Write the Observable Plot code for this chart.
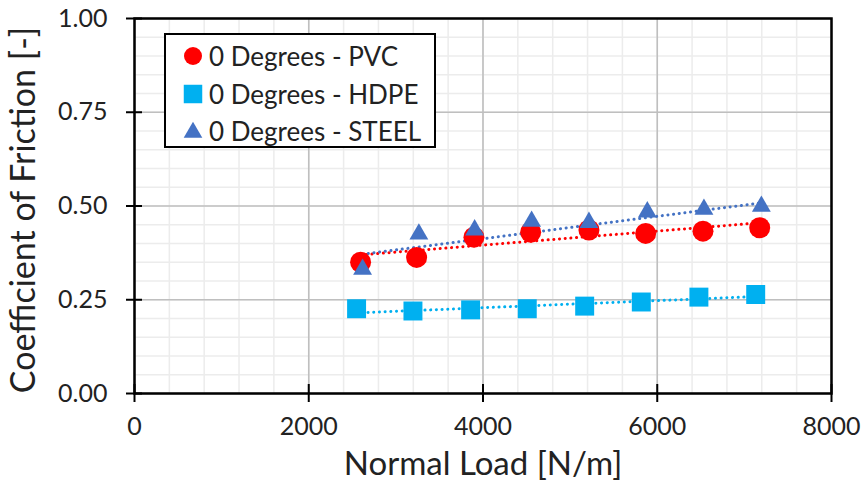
<!DOCTYPE html>
<html>
<head>
<meta charset="utf-8">
<script src="https://cdn.jsdelivr.net/npm/d3@7"></script>
<script src="https://cdn.jsdelivr.net/npm/@observablehq/plot@0.6"></script>
<style>
  html, body { margin: 0; padding: 0; background: #fff; }
  #wrap { position: relative; width: 865px; height: 483px; font-family: Lato, sans-serif; }
  #legend { position: absolute; left: 164px; top: 33px; width: 268px; height: 111px;
            border: 2px solid #000; background: #fff; }
</style>
</head>
<body>
<div id="wrap"><div id="legend"></div></div>
<script>
// ---- data ----
const pvcLoad   = [2595, 3238, 3896, 4547, 5216, 5867, 6525, 7176];
const pvcCof    = [0.350, 0.363, 0.417, 0.430, 0.436, 0.427, 0.433, 0.442];
const hdpeLoad  = [2549, 3196, 3858, 4508, 5167, 5817, 6478, 7130];
const hdpeCof   = [0.226, 0.220, 0.223, 0.226, 0.233, 0.244, 0.257, 0.264];
const steelLoad = [2618, 3264, 3904, 4558, 5216, 5886, 6536, 7195];
const steelCof  = [0.323, 0.417, 0.428, 0.451, 0.448, 0.476, 0.483, 0.491];

const seriesNames  = ["0 Degrees - PVC", "0 Degrees - HDPE", "0 Degrees - STEEL"];
const seriesColors = ["#FF0000", "#00B0F0", "#4472C4"];
const seriesSymbols = ["circle", "square", "triangle"];

const xTicks = [0, 2000, 4000, 6000, 8000];
const yTicks = [0, 0.25, 0.5, 0.75, 1.0];
const xMinor = d3.range(0, 8001, 400);
const yMinor = d3.range(0, 1.0001, 0.05);
const xTitle = "Normal Load [N/m]";
const yTitle = "Coefficient of Friction [-]";

const pvc   = pvcLoad.map((x, i) => ({x, y: pvcCof[i]}));
const hdpe  = hdpeLoad.map((x, i) => ({x, y: hdpeCof[i]}));
const steel = steelLoad.map((x, i) => ({x, y: steelCof[i]}));

const dotted = {strokeWidth: 3, strokeDasharray: "0.1,5.6", strokeLinecap: "round"};

const chart = Plot.plot({
  width: 865,
  height: 483,
  marginLeft: 134,
  marginRight: 34,
  marginTop: 18,
  marginBottom: 90,
  style: {fontFamily: "Lato, sans-serif", fontSize: "25px", color: "#222", background: "#fff"},
  x: {domain: [0, 8000]},
  y: {domain: [0, 1]},
  marks: [
    Plot.gridX({ticks: xMinor, stroke: "#ececec", strokeOpacity: 1, strokeWidth: 1.5}),
    Plot.gridY({ticks: yMinor, stroke: "#ececec", strokeOpacity: 1, strokeWidth: 1.5}),
    Plot.gridX({ticks: xTicks, stroke: "#bfbfbf", strokeOpacity: 1, strokeWidth: 1.6}),
    Plot.gridY({ticks: yTicks, stroke: "#bfbfbf", strokeOpacity: 1, strokeWidth: 1.6}),
    Plot.linearRegressionY(pvc,   {x: "x", y: "y", stroke: seriesColors[0], ci: 0, ...dotted}),
    Plot.linearRegressionY(hdpe,  {x: "x", y: "y", stroke: seriesColors[1], ci: 0, ...dotted}),
    Plot.linearRegressionY(steel, {x: "x", y: "y", stroke: seriesColors[2], ci: 0, ...dotted}),
    Plot.dot(pvc,   {x: "x", y: "y", symbol: seriesSymbols[0], r: 10.5, fill: seriesColors[0], stroke: "none"}),
    Plot.dot(hdpe,  {x: "x", y: "y", symbol: seriesSymbols[1], r: 10.7, fill: seriesColors[1], stroke: "none"}),
    Plot.dot(steel, {x: "x", y: "y", symbol: seriesSymbols[2], r: 7, dy: -3, fill: seriesColors[2], stroke: "none"}),
    Plot.frame({stroke: "#000", strokeWidth: 2.5}),
    Plot.axisX({ticks: xTicks, tickSize: 18, dy: -9, tickFormat: () => "", stroke: "#000", strokeWidth: 2, label: null}),
    Plot.axisX({ticks: xTicks, tickSize: 0, tickPadding: 24, tickFormat: d3.format("d"), fill: "#222", label: null}),
    Plot.axisY({ticks: yTicks, tickSize: 16, dx: 8, tickFormat: () => "", stroke: "#000", strokeWidth: 2, label: null}),
    Plot.axisY({ticks: yTicks, tickSize: 0, tickPadding: 27, tickFormat: d3.format(".2f"), fill: "#222", label: null}),
    Plot.text([xTitle], {text: d => d, frameAnchor: "bottom", lineAnchor: "bottom", textAnchor: "middle", dy: 81, fontSize: 33, fill: "#222"}),
    Plot.text([yTitle], {text: d => d, frameAnchor: "left", textAnchor: "middle", rotate: -90, dx: -110, dy: 4, fontSize: 34, fill: "#222"})
  ]
});
document.getElementById("wrap").insertBefore(chart, document.getElementById("legend"));

// ---- legend (inside the plot area, as in the reference) ----
const legend = d3.select("#legend");
const symbolPaths = [d3.symbolCircle, d3.symbolSquare, d3.symbolTriangle];
const symbolSizes = [Math.PI * 9 * 9, 18.5 * 18.5, 150];
seriesNames.forEach((name, i) => {
  const row = legend.append("div")
    .style("position", "absolute")
    .style("left", "16px")
    .style("top", `${3 + i * 37.5}px`)
    .style("height", "36px")
    .style("display", "flex")
    .style("align-items", "center")
    .style("white-space", "nowrap");
  const svg = row.append("svg").attr("width", 22).attr("height", 22).style("margin-right", "5px");
  svg.append("path")
    .attr("transform", `translate(11,${i === 2 ? 12.5 : 11})`)
    .attr("d", d3.symbol(symbolPaths[i], symbolSizes[i])())
    .attr("fill", seriesColors[i]);
  row.append("span")
    .style("font-size", "26px")
    .style("color", "#222")
    .text(name);
});
</script>
</body>
</html>
